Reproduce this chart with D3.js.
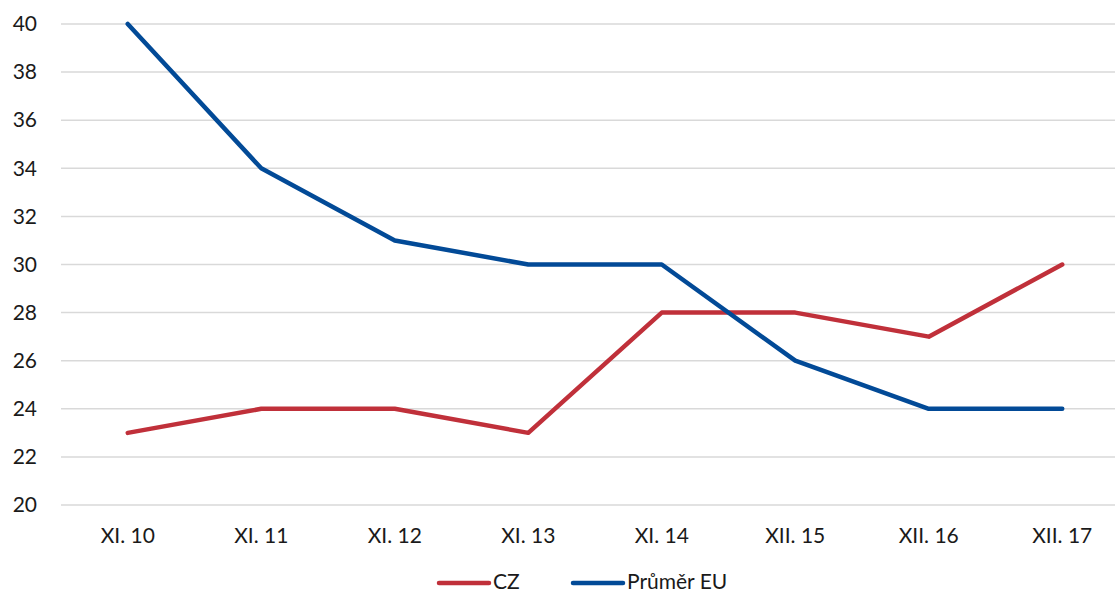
<!DOCTYPE html>
<html>
<head>
<meta charset="utf-8">
<script src="https://cdn.jsdelivr.net/npm/d3@7"></script>
<style>
  body { margin: 0; background: #fff; overflow: hidden; }
  svg { display: block; font-family: Lato, "Open Sans", sans-serif; }
</style>
</head>
<body>
<svg id="chart" width="1115" height="594"></svg>
<script>
const categories = ["XI. 10", "XI. 11", "XI. 12", "XI. 13", "XI. 14", "XII. 15", "XII. 16", "XII. 17"];
const czValues = [23, 24, 24, 23, 28, 28, 27, 30];
const euValues = [40, 34, 31, 30, 30, 26, 24, 24];
const yTicks = [20, 22, 24, 26, 28, 30, 32, 34, 36, 38, 40];
const seriesNames = ["CZ", "Průměr EU"];
const seriesColors = ["#C0303A", "#024A97"];

const width = 1115;
const height = 594;
const left = 61;
const fontSize = 21;

const svg = d3.select('#chart');

const x = d3.scaleBand()
    .domain(categories)
    .range([left, 1129]);

const y = d3.scaleLinear()
    .domain([20, 40])
    .range([505, 24]);

// gridlines
svg.append('g')
    .selectAll('line')
    .data(yTicks)
    .enter()
    .append('line')
    .attr('x1', left)
    .attr('x2', width)
    .attr('y1', d => y(d))
    .attr('y2', d => y(d))
    .attr('stroke', '#d9d9d9')
    .attr('stroke-width', 1.5);

// y axis labels
const yAxis = d3.axisLeft(y).tickValues(yTicks).tickSize(0).tickPadding(0);
svg.append('g')
    .attr('transform', 'translate(37,0)')
    .call(yAxis)
    .call(g => g.select('.domain').remove())
    .call(g => g.selectAll('text')
        .attr('font-family', 'Lato, "Open Sans", sans-serif')
        .attr('font-size', fontSize)
        .attr('fill', '#1a1a1a'));

// x axis labels
const xAxis = d3.axisBottom(x).tickSize(0).tickPadding(0);
svg.append('g')
    .attr('transform', 'translate(0,528)')
    .call(xAxis)
    .call(g => g.select('.domain').remove())
    .call(g => g.selectAll('text')
        .attr('font-family', 'Lato, "Open Sans", sans-serif')
        .attr('font-size', fontSize)
        .attr('fill', '#1a1a1a'));

const line = d3.line()
    .x((d, i) => x(categories[i]) + x.bandwidth() / 2)
    .y(d => y(d));

[czValues, euValues].forEach((vals, i) => {
    svg.append('path')
        .datum(vals)
        .attr('d', line)
        .attr('fill', 'none')
        .attr('stroke', seriesColors[i])
        .attr('stroke-width', 4.5)
        .attr('stroke-linejoin', 'round')
        .attr('stroke-linecap', 'round');
});

// legend
const legendX = [437, 571];
const legend = svg.append('g');
seriesNames.forEach((name, i) => {
    legend.append('line')
        .attr('x1', legendX[i] + 2)
        .attr('x2', legendX[i] + 52)
        .attr('y1', 583)
        .attr('y2', 583)
        .attr('stroke', seriesColors[i])
        .attr('stroke-width', 4.5)
        .attr('stroke-linecap', 'round');
    legend.append('text')
        .attr('x', legendX[i] + 56)
        .attr('y', 589)
        .attr('font-size', fontSize)
        .attr('fill', '#1a1a1a')
        .text(name);
});
</script>
</body>
</html>
